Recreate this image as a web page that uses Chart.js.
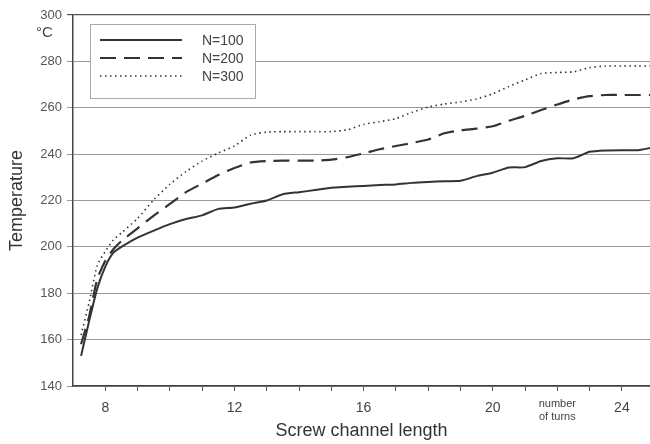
<!DOCTYPE html>
<html>
<head>
<meta charset="utf-8">
<script src="https://cdn.jsdelivr.net/npm/chart.js@4/dist/chart.umd.min.js"></script>
<style>
html,body{margin:0;padding:0;background:#fff;}
#wrap{width:650px;height:444px;position:relative;}
</style>
</head>
<body>
<div id="wrap"><canvas id="c" width="650" height="444"></canvas></div>
<script>
// Screw channel length (number of turns)
const xs = [7.25,7.5,7.75,8,8.25,8.5,9,9.5,10,10.5,11,11.5,12,12.5,13,13.5,14,14.5,15,15.5,16,16.5,17,17.5,18,18.5,19,19.5,20,20.5,21,21.5,22,22.5,23,23.5,24,24.5,25];
// Temperature, °C
const n100 = [153,168,182,191.5,197.5,200,204,207,209.8,212,213.6,216.4,217,218.6,220,222.7,223.6,224.5,225.5,225.9,226.3,226.7,226.9,227.6,228,228.3,228.5,230.5,232,234.2,234.4,237,238.2,238.2,241,241.6,241.7,241.7,243];
const n200 = [158,170,186,194,199,202.5,208,213.5,218.5,223.6,227.3,231,234,236.4,237,237.2,237.2,237.2,237.6,238.7,240.3,242.1,243.5,244.8,246.3,249,250.3,251,252,254.4,256.5,259,261.4,263.6,265,265.5,265.5,265.5,265.5];
const n300 = [162,176,192,198,203,206,212.3,220.3,227,232.5,237,240.5,243.5,248.2,249.5,249.7,249.7,249.7,249.7,250.5,252.8,254,255.3,258,260.3,261.6,262.5,263.8,266,269.2,272,274.8,275.2,275.5,277.3,278,278,278,278];
const seriesLabels = ["N=100","N=200","N=300"];
const yTicks = [140,160,180,200,220,240,260,280,300];
const xTickLabels = {8:"8",12:"12",16:"16",20:"20",22:["number","of turns"],24:"24"};
const yUnit = "°C";
const xTitle = "Screw channel length";
const yTitle = "Temperature";

const FONT = "'Liberation Sans', Arial, sans-serif";
const INK = "#333";

function pts(ys){ return xs.map((x,i)=>({x:x,y:ys[i]})); }

const legendBox = {
  id:'legendBox',
  afterDatasetsDraw(chart){
    const ctx = chart.ctx;
    const bx = 90, by = 24, bw = 165, bh = 74;
    ctx.save();
    ctx.fillStyle = '#fff';
    ctx.fillRect(bx,by,bw,bh);
    ctx.strokeStyle = '#aaa';
    ctx.lineWidth = 1;
    ctx.strokeRect(bx+0.5,by+0.5,bw,bh);
    chart.data.datasets.forEach((ds,i)=>{
      const y = 40 + i*18;
      ctx.strokeStyle = ds.borderColor;
      ctx.lineWidth = ds.borderWidth;
      ctx.setLineDash(ds.borderDash || []);
      ctx.beginPath();
      ctx.moveTo(100,y); ctx.lineTo(182,y);
      ctx.stroke();
      ctx.setLineDash([]);
      ctx.fillStyle = '#444';
      ctx.font = '14px ' + FONT;
      ctx.textBaseline = 'middle';
      ctx.textAlign = 'left';
      ctx.fillText(ds.label, 202, y+1);
    });
    ctx.font = '15px ' + FONT;
    ctx.fillStyle = '#444';
    ctx.textBaseline = 'middle';
    ctx.textAlign = 'left';
    ctx.fillText(yUnit, 36, 33);
    ctx.restore();
  }
};

new Chart(document.getElementById('c'), {
  type:'line',
  data:{
    datasets:[
      {label:seriesLabels[0], data:pts(n100), borderColor:INK, borderWidth:2, pointRadius:0, tension:0.2, fill:false},
      {label:seriesLabels[1], data:pts(n200), borderColor:INK, borderWidth:2.2, borderDash:[16,8], pointRadius:0, tension:0.2, fill:false},
      {label:seriesLabels[2], data:pts(n300), borderColor:INK, borderWidth:1.6, borderDash:[1.5,3.5], pointRadius:0, tension:0.2, fill:false}
    ]
  },
  options:{
    responsive:false,
    animation:false,
    clip: true,
    layout:{padding:{top:15,right:0,bottom:0,left:0}},
    plugins:{legend:{display:false}, tooltip:{enabled:false}},
    scales:{
      x:{
        type:'linear', min:7, max:24.87,
        afterBuildTicks(scale){
          const t=[]; for(let v=8; v<=24; v++) t.push({value:v});
          scale.ticks=t;
        },
        afterFit(scale){ scale.height = 58; },
        grid:{display:true, drawOnChartArea:false, drawTicks:true, tickLength:5, color:'#555'},
        border:{display:true, color:'#444', width:1.5},
        ticks:{
          autoSkip:false, maxRotation:0, padding:13, color:'#444',
          crossAlign:'center',
          font:(c)=> (c.tick && c.tick.value===22) ? {family:FONT,size:11,lineHeight:1.15} : {family:FONT,size:14},
          callback:(v)=> (xTickLabels[v]!==undefined ? xTickLabels[v] : '')
        },
        title:{display:true, text:xTitle, color:'#333', font:{family:FONT,size:18}, padding:{top:0,bottom:2}}
      },
      y:{
        min:140, max:300,
        afterBuildTicks(scale){ scale.ticks = yTicks.map(v=>({value:v})); },
        afterFit(scale){ scale.width = 73; },
        grid:{color:(c)=> (c.tick && c.tick.value===300) ? '#555' : '#999', lineWidth:(c)=> (c.tick && c.tick.value===300)?1.2:1, tickLength:6, drawTicks:true},
        border:{display:true, color:'#444', width:1.5},
        ticks:{padding:5, color:'#555', font:{family:FONT,size:13}},
        title:{display:true, text:yTitle, color:'#333', font:{family:FONT,size:18}, padding:{top:6,bottom:4}}
      }
    }
  },
  plugins:[legendBox]
});
</script>
</body>
</html>
